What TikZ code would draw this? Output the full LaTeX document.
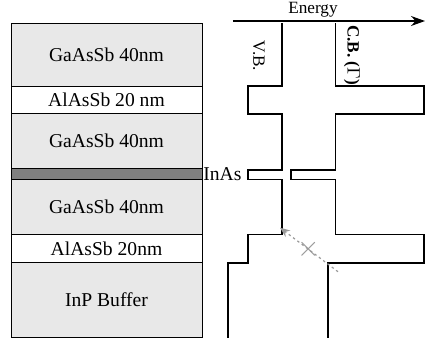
\documentclass[tikz,border=0pt]{standalone}
\usepackage{fontspec}
\setmainfont{Liberation Serif}
\usetikzlibrary{arrows.meta,positioning}
\definecolor{layergray}{RGB}{232,232,232}
\definecolor{wellgray}{RGB}{128,128,128}

\begin{document}
\begin{tikzpicture}[
  x=0.5pt, y=-0.5pt,
  every node/.style={font=\fontsize{9.8}{12}\selectfont},
  layer/.style={draw, line width=0.4pt, fill=layergray},
  barrier/.style={layer, fill=white},
  well/.style={layer, fill=wellgray},
  band/.style={line width=0.8pt, line join=miter},
  bandlabel/.style={rotate=-90, font=\fontsize{8.6}{10}\selectfont}
]
\useasboundingbox (0,0) rectangle (425,343);
% Layer stack
\draw[layer] (11,23.5) rectangle (202,86) node[midway] (gas1) {GaAsSb 40nm};
\draw[barrier] (11,86) rectangle (202,113.7) node[midway] (alas1) {AlAsSb 20 nm};
\draw[layer] (11,113.7) rectangle (202,168.3) node[midway] (gas2) {GaAsSb 40nm};
\draw[well] (11,168.3) rectangle (202,179.3) coordinate (inasR);
\draw[layer] (11,179.3) rectangle (202,234.3) node[midway] (gas3) {GaAsSb 40nm};
\draw[barrier] (11,234.3) rectangle (202,262.3) node[midway] (alas2) {AlAsSb 20nm};
\draw[layer] (11,262.3) rectangle (202,337.7) node[midway] (buffer) {InP Buffer};
\node[anchor=west, inner sep=0pt] (inas) at (203,174) {InAs};
% Energy axis
\coordinate (eL) at (233,21);
\coordinate (eR) at (425,21);
\draw[line width=0.6pt, -{Stealth[length=7pt,width=5pt]}] (eL) -- (eR);
\node[font=\fontsize{8.6}{10}\selectfont] (energy) at (313,10) {Energy};
% Valence band
\draw[band] (282.3,23) -- (282.3,86) -- (248.3,86) -- (248.3,113.7) -- (282.3,113.7)
  -- (282.3,170) -- (248.3,170) -- (248.3,179.3) -- (282.3,179.3)
  -- (282.3,234.3) -- (248.3,234.3) -- (248.3,262.7) -- (228.3,262.7) -- (228.3,338);
% Conduction band
\draw[band] (335.7,23) -- (335.7,86) -- (424,86) -- (424,113.7) -- (335.7,113.7)
  -- (335.7,170) -- (291,170) -- (291,179.3) -- (335.7,179.3)
  -- (335.7,234.3) -- (424,234.3) -- (424,262.7) -- (328.3,262.7) -- (328.3,338);
\node[bandlabel] (vb) at (259,56) {V.B.};
\node[bandlabel, font=\fontsize{8.6}{10}\selectfont\bfseries] (cb) at (352,55) {C.B. ($\Gamma$)};
% Blocked transfer
\coordinate (tFrom) at (338,271.7);
\coordinate (tTo) at (280,227.7);
\draw[gray!80, line width=0.6pt, dash pattern=on 1.2pt off 1.5pt, -{Stealth[length=5pt,width=4pt]}] (tFrom) -- (tTo);
\node[gray!80, font=\fontsize{15}{15}\selectfont, inner sep=0pt] (cross) at (308.3,249) {$\times$};
\end{tikzpicture}
\end{document}
